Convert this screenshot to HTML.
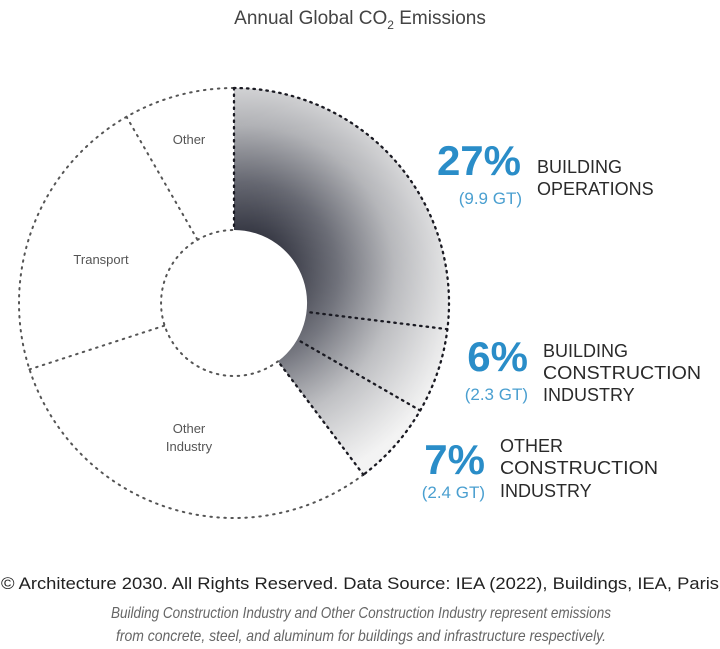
<!DOCTYPE html>
<html><head><meta charset="utf-8"><style>
html,body{margin:0;padding:0;background:#fff;}
svg{display:block;}
</style></head><body>
<svg width="720" height="649" viewBox="0 0 720 649" xmlns="http://www.w3.org/2000/svg" font-family="Liberation Sans, sans-serif">
<defs>
<radialGradient id="g" gradientUnits="userSpaceOnUse" cx="245" cy="275" r="220">
<stop offset="0.2" stop-color="#2c2e3a"/>
<stop offset="0.42" stop-color="#60626c"/>
<stop offset="0.68" stop-color="#b0b1b5"/>
<stop offset="1" stop-color="#efefef"/>
</radialGradient>
<linearGradient id="l" gradientUnits="userSpaceOnUse" x1="260" y1="100" x2="430" y2="460">
<stop offset="0" stop-color="#fff" stop-opacity="0"/>
<stop offset="0.5" stop-color="#fff" stop-opacity="0.1"/>
<stop offset="1" stop-color="#fff" stop-opacity="0.3"/>
</linearGradient>
</defs>
<text x="360" y="24" text-anchor="middle" font-size="19" fill="#444">Annual Global CO<tspan font-size="12" dy="5">2</tspan><tspan dy="-5"> Emissions</tspan></text>

<path d="M234 88 A215 215 0 0 1 363.4 474.7 L278 361.3 A73 73 0 0 0 234 230 Z" fill="url(#g)"/>
<path d="M234 88 A215 215 0 0 1 363.4 474.7 L278 361.3 A73 73 0 0 0 234 230 Z" fill="url(#l)"/>

<g fill="none" stroke="#555" stroke-width="2" stroke-dasharray="1.5 5.5" stroke-linecap="round">
<path d="M363.4 474.7 A215 215 0 1 1 234 88"/>
<path d="M278 361.3 A73 73 0 1 1 234 230"/>
<line x1="29.5" y1="369.4" x2="164.6" y2="325.6"/>
<line x1="126.5" y1="116.8" x2="197.5" y2="239.8"/>
</g>
<g fill="none" stroke="#1a1a22" stroke-width="2.3" stroke-dasharray="1.5 5" stroke-linecap="round">
<path d="M234 88 A215 215 0 0 1 363.4 474.7"/>
<line x1="234" y1="88" x2="234" y2="230"/>
<line x1="363.4" y1="474.7" x2="278" y2="361.3"/>
<line x1="447.4" y1="329.2" x2="306.5" y2="311.9"/>
<line x1="420.2" y1="410.5" x2="297.2" y2="339.5"/>
</g>

<g font-size="13" fill="#555" text-anchor="middle">
<text x="189" y="144">Other</text>
<text x="101" y="264">Transport</text>
<text x="189" y="433">Other</text>
<text x="189" y="451">Industry</text>
</g>

<g fill="#2a8dc8" font-weight="bold" text-anchor="end">
<text x="521" y="175" font-size="42">27%</text>
<text x="528" y="371" font-size="42">6%</text>
<text x="485" y="474" font-size="42">7%</text>
</g>
<g fill="#4a9fd0" font-size="17" text-anchor="end">
<text x="522" y="204">(9.9 GT)</text>
<text x="528" y="400">(2.3 GT)</text>
<text x="485" y="498">(2.4 GT)</text>
</g>
<g fill="#2a2a2a" font-size="18">
<text x="537" y="173">BUILDING</text>
<text x="537" y="195">OPERATIONS</text>
<text x="543" y="357">BUILDING</text>
<text x="543" y="379" textLength="158" lengthAdjust="spacingAndGlyphs">CONSTRUCTION</text>
<text x="543" y="401">INDUSTRY</text>
<text x="500" y="452">OTHER</text>
<text x="500" y="474" textLength="158" lengthAdjust="spacingAndGlyphs">CONSTRUCTION</text>
<text x="500" y="497">INDUSTRY</text>
</g>

<text x="1" y="589" font-size="17" fill="#222" textLength="718" lengthAdjust="spacingAndGlyphs">© Architecture 2030. All Rights Reserved. Data Source: IEA (2022), Buildings, IEA, Paris</text>
<g font-size="16" fill="#666" font-style="italic" text-anchor="middle">
<text x="361" y="618" textLength="500" lengthAdjust="spacingAndGlyphs">Building Construction Industry and Other Construction Industry represent emissions</text>
<text x="361" y="641" textLength="490" lengthAdjust="spacingAndGlyphs">from concrete, steel, and aluminum for buildings and infrastructure respectively.</text>
</g>
</svg>
</body></html>
